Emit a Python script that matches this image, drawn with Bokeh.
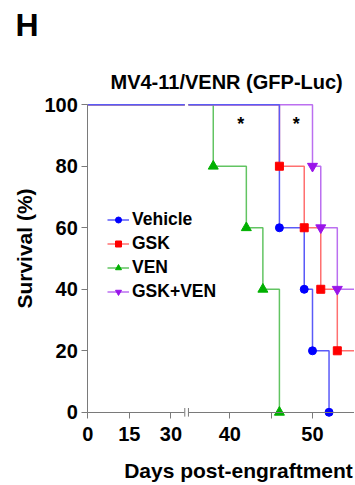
import math
from bokeh.plotting import figure
from bokeh.models import Range1d, LinearAxis, FixedTicker, Legend, LegendItem, Label
from bokeh.embed import file_html
from bokeh.resources import INLINE
from bokeh.core.properties import value

# ---------------- data ----------------
groups = ["Vehicle", "GSK", "VEN", "GSK+VEN"]
vehicle_days = [0, 46, 49, 50, 52]
vehicle_surv = [100, 60, 40, 20, 0]
gsk_days = [0, 46, 49, 51, 53]
gsk_surv = [100, 80, 60, 40, 20]
ven_days = [0, 38, 42, 44, 46]
ven_surv = [100, 80, 60, 40, 0]
combo_days = [0, 50, 51, 53]
combo_surv = [100, 80, 60, 40]
followup_end = 57          # censored follow-up continues beyond view
break_day = 35             # axis break position (days)

x_ticks_left = [0, 15, 30]
x_ticks_right = [40, 50]
x_minor_right = [45]
y_ticks = [0, 20, 40, 60, 80, 100]

star_x = [41.33, 48.03]
star_y = [93.8, 93.8]
star_text = ["*", "*"]

title_text = "MV4-11/VENR (GFP-Luc)"
panel_text = "H"
x_label = "Days post-engraftment"
y_label = "Survival (%)"

# ---------------- style ----------------
FONT = "Liberation Sans"
AXIS_COL = "#7a7a7a"
series = [
    # name, days, surv, marker colour, line colour, marker, size
    ("GSK+VEN", combo_days, combo_surv, "#9a14ea", "#bb6ff0", "inverted_triangle", 10),
    ("VEN", ven_days, ven_surv, "#00b000", "#62c462", "triangle", 10),
    ("GSK", gsk_days, gsk_surv, "#ff0000", "#ff7070", "square", 8),
    ("Vehicle", vehicle_days, vehicle_surv, "#0000ff", "#5a5af8", "circle", 8),
]

W, H = 354, 484
p = figure(width=W, height=H,
           x_range=Range1d(12.273, 55.079), y_range=Range1d(-23.47, 133.88),
           output_backend="svg", toolbar_location=None,
           x_axis_location=None, y_axis_location=None,
           min_border=0, min_border_left=0, min_border_right=0,
           min_border_top=0, min_border_bottom=0)
p.title.visible = False
p.extra_x_ranges = {"left": Range1d(-31.505, 96.247)}
p.grid.visible = False
p.outline_line_color = None
p.background_fill_color = "white"
p.border_fill_color = "white"

def style_axis(ax):
    ax.axis_line_color = AXIS_COL
    ax.major_tick_line_color = AXIS_COL
    ax.minor_tick_line_color = AXIS_COL
    ax.major_tick_in = 0
    ax.major_tick_out = 6
    ax.minor_tick_in = 0
    ax.minor_tick_out = 6
    ax.major_label_text_font = FONT
    ax.major_label_text_font_style = "bold"
    ax.major_label_text_font_size = "20px"
    ax.major_label_text_color = "black"

# y axis, anchored at day 0 of the left (compressed) segment
ya = LinearAxis(ticker=FixedTicker(ticks=y_ticks), bounds=(0, 100),
                fixed_location=22.83)
style_axis(ya)
ya.minor_tick_line_color = None
ya.major_label_standoff = 4
p.add_layout(ya, "left")

# broken x axis
left_axis = LinearAxis(x_range_name="left", ticker=FixedTicker(ticks=x_ticks_left),
                       bounds=(0, break_day), fixed_location=0)
right_axis = LinearAxis(ticker=FixedTicker(ticks=x_ticks_right, minor_ticks=x_minor_right),
                        bounds=(break_day, 80), fixed_location=0)
for ax in (left_axis, right_axis):
    style_axis(ax)
    ax.major_label_standoff = 9
    p.add_layout(ax, "below")

# axis break marks
p.segment(x0=[break_day], y0=[-1.4], x1=[break_day], y1=[1.4], x_range_name="left",
          line_color=AXIS_COL, line_width=1)
p.segment(x0=[break_day], y0=[-1.4], x1=[break_day], y1=[1.4],
          line_color=AXIS_COL, line_width=1)

# curves
pre_lines = {}
for name, days, surv, col, lcol, mk, sz in series:
    pre_lines[name] = p.line(x=[days[0], break_day], y=[surv[0], surv[0]],
                             x_range_name="left", line_color=lcol, line_width=1.5)
    xs = [break_day] + days[1:]
    ys = [surv[0]] + surv[1:]
    if surv[-1] > 0:
        xs = xs + [followup_end]
        ys = ys + [surv[-1]]
    p.step(x=xs, y=ys, mode="after", line_color=lcol, line_width=1.5)

markers = {}
for name, days, surv, col, lcol, mk, sz in series:
    markers[name] = p.scatter(x=days[1:], y=surv[1:], marker=mk, size=sz,
                              fill_color=col, line_color=col)

# significance stars
p.text(x=star_x, y=star_y, text=star_text, text_font=value(FONT),
       text_font_style="bold", text_font_size="18px", text_align="center",
       text_baseline="alphabetic", text_color="black")

# legend
items = [LegendItem(label=g, renderers=[pre_lines[g], markers[g]]) for g in groups]
legend = Legend(items=items, location=(107, 182), glyph_width=22, glyph_height=15,
                label_standoff=3, label_height=20, spacing=3, padding=0, margin=0,
                border_line_color=None, background_fill_alpha=0,
                label_text_font=FONT, label_text_font_style="bold",
                label_text_font_size="17.5px", label_text_color="black")
p.add_layout(legend)

# texts
p.add_layout(Label(x=25.574, y=107.54, text=title_text, text_font=FONT,
                   text_font_style="bold", text_font_size="20px",
                   text_align="left", text_baseline="alphabetic", text_color="black"))
p.add_layout(Label(x=14.09, y=125.97, text=panel_text, text_font=FONT,
                   text_font_style="bold", text_font_size="32px",
                   text_align="left", text_baseline="alphabetic", text_color="black"))
p.add_layout(Label(x=15.14, y=53.25, text=y_label, angle=math.pi / 2, text_font=FONT,
                   text_font_style="bold", text_font_size="21px",
                   text_align="center", text_baseline="middle", text_color="black"))
p.add_layout(Label(x=41.05, y=-18.93, text=x_label, text_font=FONT,
                   text_font_style="bold", text_font_size="21px",
                   text_align="center", text_baseline="alphabetic", text_color="black"))

open("out.html", "w").write(file_html(p, INLINE))
